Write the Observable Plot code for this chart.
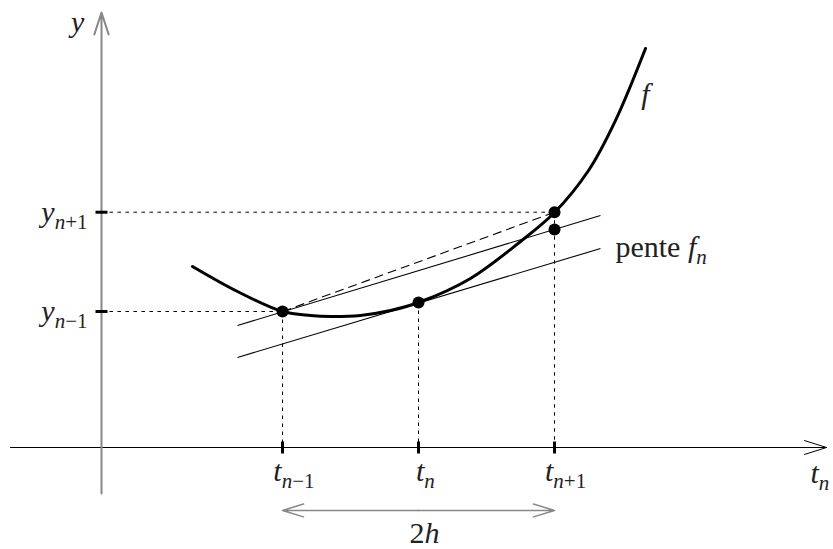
<!DOCTYPE html>
<html><head><meta charset="utf-8">
<script src="https://cdn.jsdelivr.net/npm/d3@7"></script>
<script src="https://cdn.jsdelivr.net/npm/@observablehq/plot@0.6"></script>
<style>body{margin:0;background:#fff} svg text{font-family:"Liberation Serif",serif}</style>
</head><body><div id="chart"></div>
<script>
// ---- data (math units: origin at the axes' crossing, h = 1) ----
const tTicks = [1.331, 2.331, 3.331];
const tTickLabels = ["t_{n−1}", "t_{n}", "t_{n+1}"];
const tLabelX = [1.415, 2.382, 3.412];
const yTicks = [1.0, 1.73];
const yTickLabels = ["y_{n−1}", "y_{n+1}"];
const curveT = [0.669, 1.0, 1.331, 1.537, 1.684, 1.904, 2.125, 2.331, 2.713, 3.081, 3.331, 3.581, 3.779, 4.0];
const curveY = [1.331, 1.147, 1.0, 0.971, 0.963, 0.971, 1.007, 1.066, 1.243, 1.515, 1.728, 2.037, 2.404, 2.934];
const dotT = [1.331, 2.331, 3.331, 3.331];
const dotY = [1.0, 1.066, 1.73, 1.603];
const slopeLineT = [1.0, 3.669];
const upperLineY = [0.897, 1.706];
const lowerLineY = [0.662, 1.463];
const xAxisT = [-0.669, 5.331];
const yAxisY = [-0.338, 3.199];
const spanY = -0.463;
const annoMidText = ["y", "f", "2h"];
const annoMidT = [-0.176, 4.0, 2.375];
const annoMidY = [3.129, 2.593, -0.63];
const annoStartText = ["pente f_{n}", "t_{n}"];
const annoStartT = [3.779, 5.213];
const annoStartY = [1.468, -0.187];
const yLabelT = -0.103;
const tLabelY = -0.172;

const FONT = "Liberation Serif";
const k = 6 / 136; // half tick length
const pts = (xs, ys) => xs.map((x, i) => ({x, y: ys[i]}));

const guides = [
  {x1: 0, y1: yTicks[1], x2: dotT[2], y2: yTicks[1]},
  {x1: 0, y1: yTicks[0], x2: dotT[0], y2: yTicks[0]},
  {x1: tTicks[0], y1: dotY[0], x2: tTicks[0], y2: 0},
  {x1: tTicks[1], y1: dotY[1], x2: tTicks[1], y2: 0},
  {x1: tTicks[2], y1: dotY[2], x2: tTicks[2], y2: 0}
];
const slopeLines = [
  {x1: slopeLineT[0], y1: upperLineY[0], x2: slopeLineT[1], y2: upperLineY[1]},
  {x1: slopeLineT[0], y1: lowerLineY[0], x2: slopeLineT[1], y2: lowerLineY[1]}
];
const secant = [{x1: dotT[0], y1: dotY[0], x2: dotT[2], y2: dotY[2]}];
const xTickSegs = tTicks.map(t => ({x1: t, x2: t, y1: -k, y2: k}));
const yTickSegs = yTicks.map(v => ({x1: -k, x2: k, y1: v, y2: v}));
const mid = (tTicks[0] + tTicks[2]) / 2;

const chart = Plot.plot({
  width: 833, height: 549, margin: 0,
  x: {domain: [-101/136, 732/136], axis: null},
  y: {domain: [-102/136, 447/136], axis: null},
  style: {background: "white", fontFamily: FONT},
  marks: [
    Plot.link(guides, {x1: "x1", y1: "y1", x2: "x2", y2: "y2", stroke: "black", strokeWidth: 1, strokeDasharray: "3.5,4.5"}),
    Plot.arrow([{}], {x1: xAxisT[0], y1: 0, x2: xAxisT[1], y2: 0, stroke: "black", strokeWidth: 1, headLength: 34.5, headAngle: 35}),
    Plot.arrow([{}], {x1: 0, y1: yAxisY[0], x2: 0, y2: yAxisY[1], stroke: "#888", strokeWidth: 2, headLength: 17.3, headAngle: 36}),
    Plot.link(slopeLines, {x1: "x1", y1: "y1", x2: "x2", y2: "y2", stroke: "black", strokeWidth: 1.1}),
    Plot.link(secant, {x1: "x1", y1: "y1", x2: "x2", y2: "y2", stroke: "black", strokeWidth: 1.1, strokeDasharray: "9,5"}),
    Plot.line(pts(curveT, curveY), {x: "x", y: "y", curve: "catmull-rom", stroke: "black", strokeWidth: 3}),
    Plot.link(xTickSegs, {x1: "x1", y1: "y1", x2: "x2", y2: "y2", stroke: "black", strokeWidth: 3}),
    Plot.link(yTickSegs, {x1: "x1", y1: "y1", x2: "x2", y2: "y2", stroke: "black", strokeWidth: 3}),
    Plot.dot(pts(dotT, dotY), {x: "x", y: "y", r: 6, fill: "black"}),
    Plot.arrow([{}], {x1: mid, y1: spanY, x2: tTicks[2], y2: spanY, stroke: "#888", strokeWidth: 1.5, headLength: 22, headAngle: 34}),
    Plot.arrow([{}], {x1: mid, y1: spanY, x2: tTicks[0], y2: spanY, stroke: "#888", strokeWidth: 1.5, headLength: 22, headAngle: 34}),
    Plot.text(yTickLabels, {x: yLabelT, y: yTicks, text: d => d, textAnchor: "end", fontSize: 30, fontFamily: FONT, fill: "#222"}),
    Plot.text(tTickLabels, {x: tLabelX, y: tLabelY, text: d => d, textAnchor: "middle", fontSize: 30, fontFamily: FONT, fill: "#222"}),
    Plot.text(annoMidText, {x: annoMidT, y: annoMidY, text: d => d, textAnchor: "middle", fontSize: 30, fontFamily: FONT, fill: "#222"}),
    Plot.text(annoStartText, {x: annoStartT, y: annoStartY, text: d => d, textAnchor: "start", fontSize: 30, fontFamily: FONT, fill: "#222"})
  ]
});

// typeset simple math: letters italic, words/digits upright, _{...} as subscript
const NS = "http://www.w3.org/2000/svg";
function typeset(el, str) {
  el.textContent = "";
  el.setAttribute("font-family", FONT);
  const re = /_\{([^}]*)\}/g;
  const parts = [];
  let last = 0, m;
  while ((m = re.exec(str))) {
    parts.push({s: str.slice(last, m.index), sub: false});
    parts.push({s: m[1], sub: true});
    last = re.lastIndex;
  }
  parts.push({s: str.slice(last), sub: false});
  let shifted = false;
  for (const p of parts) {
    if (!p.s) continue;
    const toks = p.s.match(/[A-Za-z]{2,}|[A-Za-z]|[^A-Za-z]+/g);
    for (const tok of toks) {
      const ts = document.createElementNS(NS, "tspan");
      ts.textContent = tok;
      if (/^[A-Za-z]$/.test(tok)) ts.setAttribute("font-style", "italic");
      if (p.sub) {
        ts.setAttribute("font-size", "21");
        if (!shifted) { ts.setAttribute("dy", "7"); shifted = true; }
      } else if (shifted) { ts.setAttribute("dy", "-7"); shifted = false; }
      el.appendChild(ts);
    }
  }
}
chart.querySelectorAll("text").forEach(el => typeset(el, el.textContent));
document.getElementById("chart").appendChild(chart);
</script>
</body></html>
